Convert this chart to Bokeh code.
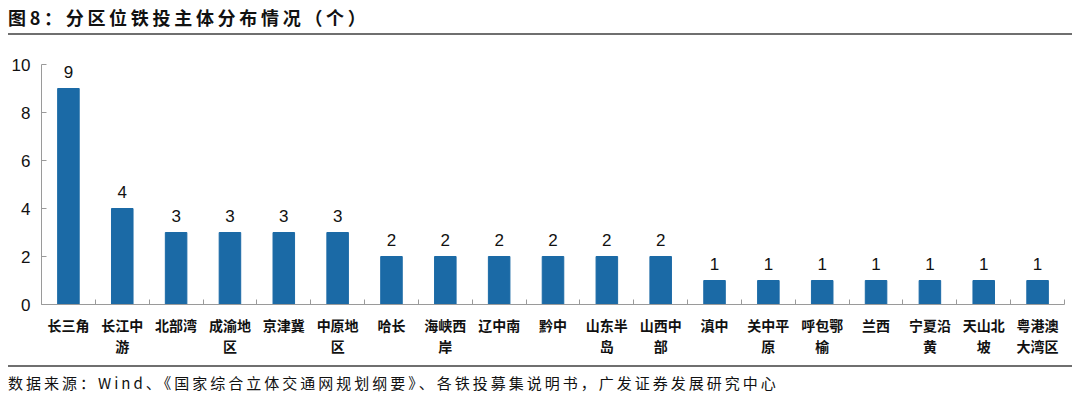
from bokeh.plotting import figure
from bokeh.models import Div, ColumnDataSource, FixedTicker, Range1d
from bokeh.layouts import column
from bokeh.embed import file_html
from bokeh.resources import INLINE
from bokeh.core.properties import value

categories = ["长三角", "长江中游", "北部湾", "成渝地区", "京津冀", "中原地区", "哈长",
              "海峡西岸", "辽中南", "黔中", "山东半岛", "山西中部", "滇中", "关中平原",
              "呼包鄂榆", "兰西", "宁夏沿黄", "天山北坡", "粤港澳大湾区"]
counts = [9, 4, 3, 3, 3, 3, 2, 2, 2, 2, 2, 2, 1, 1, 1, 1, 1, 1, 1]
y_ticks = [0, 2, 4, 6, 8, 10]

title_text = "图8：分区位铁投主体分布情况（个）"
source_text = "数据来源：Wind、《国家综合立体交通网规划纲要》、各铁投募集说明书，广发证券发展研究中心"

BAR = "#1B6AA6"
AXIS = "#9a9a9a"
CJK = "Noto Sans CJK SC"

def wrap(s, n=3):
    return "\n".join(s[i:i + n] for i in range(0, len(s), n))

n = len(categories)
xs = [i + 0.5 for i in range(n)]
bounds = list(range(n + 1))
src = ColumnDataSource(dict(x=xs, top=counts, label=[str(c) for c in counts]))

title = Div(text=title_text, width=1064, height=27, margin=0,
            styles={"font-family": CJK, "font-weight": "bold", "font-size": "18px",
                    "letter-spacing": "3.7px", "color": "#111111",
                    "border-bottom": "2px solid #6f6f6f", "box-sizing": "border-box",
                    "width": "1064px", "height": "27px", "line-height": "18px",
                    "margin": "0px"})

p = figure(width=1064, height=330, output_backend="svg", toolbar_location=None,
           x_range=Range1d(0, n), y_range=Range1d(0, 10), margin=0,
           min_border_left=29, min_border_right=8, min_border_top=29, min_border_bottom=61)
p.outline_line_color = None
p.grid.grid_line_color = None
p.background_fill_color = "white"
p.border_fill_color = "white"

p.vbar(x="x", top="top", width=0.4, bottom=0, source=src, fill_color=BAR, line_color=BAR)
p.text(x="x", y="top", text="label", source=src, text_align="center", text_baseline="bottom",
       y_offset=-11, text_font=value("Liberation Sans"), text_font_size="17px", text_color="#111111")

xa = p.xaxis[0]
xa.ticker = FixedTicker(ticks=xs, minor_ticks=bounds)
xa.major_label_overrides = {x: wrap(c) for x, c in zip(xs, categories)}
xa.major_tick_line_color = None
xa.minor_tick_in = 5
xa.minor_tick_out = 0
xa.minor_tick_line_color = AXIS
xa.axis_line_color = AXIS
xa.major_label_text_font = CJK
xa.major_label_text_font_style = "bold"
xa.major_label_text_font_size = "14px"
xa.major_label_text_color = "#111111"
xa.major_label_standoff = 4
xa.major_label_text_line_height = 1.05

ya = p.yaxis[0]
ya.ticker = FixedTicker(ticks=y_ticks, minor_ticks=[])
ya.major_tick_in = 5
ya.major_tick_out = 0
ya.minor_tick_line_color = None
ya.axis_line_color = AXIS
ya.major_tick_line_color = AXIS
ya.major_label_text_font = "Liberation Sans"
ya.major_label_text_font_size = "17px"
ya.major_label_text_color = "#111111"
ya.major_label_standoff = 11

footer = Div(text=source_text, width=1064, height=34, margin=0,
             styles={"font-family": CJK, "font-size": "15px", "letter-spacing": "3px",
                     "color": "#111111", "border-top": "2px solid #6f6f6f",
                     "box-sizing": "border-box", "width": "1064px", "height": "34px",
                     "padding-top": "7px", "line-height": "18px", "margin": "0px"})

layout = column(title, p, footer, spacing=0, margin=(8, 8, 0, 8))
open("out.html", "w").write(file_html(layout, INLINE))
